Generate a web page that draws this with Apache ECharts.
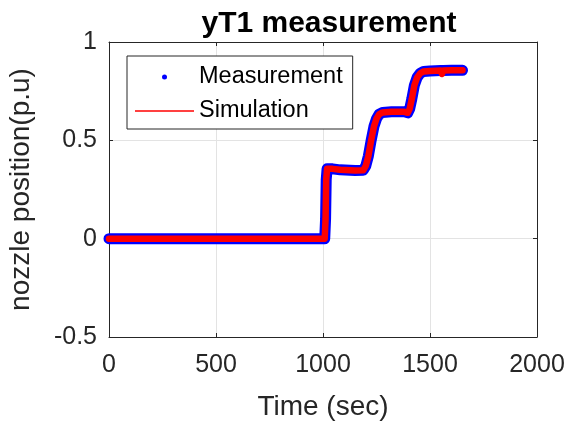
<!DOCTYPE html>
<html>
<head>
<meta charset="utf-8">
<title>yT1 measurement</title>
<script src="https://cdn.jsdelivr.net/npm/echarts@6/dist/echarts.min.js"></script>
<style>
  html, body { margin: 0; padding: 0; background: #fff; }
  #chart { width: 573px; height: 423px; }
</style>
</head>
<body>
<div id="chart"></div>
<script>
"use strict";

// values
const timeSec = [0, 200, 400, 600, 800, 1008, 1012, 1015, 1019, 1026, 1045, 1080, 1150, 1188,
  1200, 1212, 1225, 1238, 1250, 1262, 1278, 1320, 1380, 1396, 1405, 1415, 1427, 1440, 1455,
  1470, 1500, 1550, 1556, 1562, 1600, 1652];
const simValue = [0, 0, 0, 0, 0, 0, 0.1, 0.3, 0.355, 0.362, 0.355, 0.35, 0.347, 0.348,
  0.37, 0.42, 0.5, 0.57, 0.61, 0.632, 0.642, 0.645, 0.645, 0.64, 0.66, 0.71, 0.78, 0.82, 0.842,
  0.85, 0.853, 0.855, 0.838, 0.855, 0.856, 0.856];
const measValue = [0, 0, 0, 0, 0, 0, 0.1, 0.3, 0.355, 0.362, 0.355, 0.35, 0.347, 0.348,
  0.37, 0.42, 0.5, 0.57, 0.61, 0.632, 0.642, 0.645, 0.645, 0.64, 0.66, 0.71, 0.78, 0.82, 0.842,
  0.85, 0.853, 0.855, 0.848, 0.855, 0.856, 0.856];

const xTicks = [0, 500, 1000, 1500, 2000];
const yTicks = [-0.5, 0, 0.5, 1];

const FONT = "'Liberation Sans', Arial, Helvetica, sans-serif";
const INK = "#262626";

const pairs = (xs, ys) => xs.map((x, i) => [x, ys[i]]);

const chart = echarts.init(document.getElementById("chart"), null, { renderer: "canvas" });

const axisCommon = {
  axisLine: { show: true, onZero: false, lineStyle: { color: INK, width: 1 } },
  axisTick: { show: true, inside: true, length: 4, lineStyle: { color: INK } },
};

chart.setOption({
  backgroundColor: "#fff",
  animation: false,
  title: {
    text: "yT1 measurement",
    left: 324, top: 4, textAlign: "center",
    textStyle: { fontFamily: FONT, fontWeight: "bold", fontSize: 30, color: "#000" },
  },
  grid: { left: 109, right: 36, top: 42, bottom: 86, outerBoundsMode: "none", containLabel: false },
  legend: {
    orient: "vertical",
    left: 127, top: 56,
    padding: [9, 10, 6, 8],
    itemGap: 10,
    itemWidth: 59, itemHeight: 5,
    backgroundColor: "#fff",
    borderColor: INK, borderWidth: 1,
    textStyle: { fontFamily: FONT, fontSize: 23.5, color: "#000", lineHeight: 24 },
    data: [
      { name: "Measurement", icon: "circle", itemStyle: { color: "#0000ff" } },
      { name: "Simulation", icon: "path://M0,0L60,0L60,1.6L0,1.6Z", itemStyle: { color: "#ff0000", opacity: 1 } },
    ],
    z: 10,
  },
  xAxis: [
    Object.assign({
      type: "value", min: xTicks[0], max: xTicks[xTicks.length - 1], interval: 500,
      name: "Time (sec)", nameLocation: "middle", nameGap: 56,
      nameTextStyle: { fontFamily: FONT, fontSize: 28, color: INK },
      axisLabel: { fontFamily: FONT, fontSize: 25, color: INK, margin: 16, formatter: (v) => String(v) },
      splitLine: { show: true, lineStyle: { color: "#e3e3e3", width: 1 } },
    }, axisCommon),
    Object.assign({
      type: "value", position: "top", min: xTicks[0], max: xTicks[xTicks.length - 1], interval: 500,
      axisLabel: { show: false }, splitLine: { show: false },
    }, axisCommon),
  ],
  yAxis: [
    Object.assign({
      type: "value", min: yTicks[0], max: yTicks[yTicks.length - 1], interval: 0.5,
      name: "nozzle position(p.u)", nameLocation: "middle", nameGap: 74,
      nameTextStyle: { fontFamily: FONT, fontSize: 28, color: INK },
      axisLabel: { fontFamily: FONT, fontSize: 25, color: INK, margin: 12, formatter: (v) => String(v) },
      splitLine: { show: true, lineStyle: { color: "#e3e3e3", width: 1 } },
    }, axisCommon),
    Object.assign({
      type: "value", position: "right", min: yTicks[0], max: yTicks[yTicks.length - 1], interval: 0.5,
      axisLabel: { show: false }, splitLine: { show: false },
    }, axisCommon),
  ],
  series: [
    {
      name: "Measurement",
      type: "line",
      xAxisIndex: 0, yAxisIndex: 0,
      showSymbol: false, symbol: "none",
      lineStyle: { color: "#0000ff", width: 11, cap: "round", join: "round" },
      itemStyle: { color: "#0000ff" },
      data: pairs(timeSec, measValue),
      z: 2,
    },
    {
      name: "Simulation",
      type: "line",
      xAxisIndex: 0, yAxisIndex: 0,
      showSymbol: false, symbol: "none",
      lineStyle: { color: "#ff0000", width: 6.5, cap: "round", join: "round" },
      itemStyle: { color: "#ff0000" },
      data: pairs(timeSec, simValue),
      z: 3,
    },
  ],
});
</script>
</body>
</html>
